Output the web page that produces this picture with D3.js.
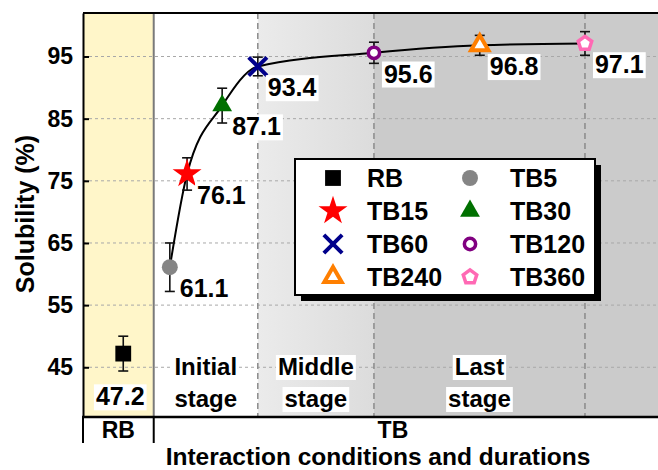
<!DOCTYPE html>
<html>
<head>
<meta charset="utf-8">
<script src="https://cdn.jsdelivr.net/npm/d3@7"></script>
<style>
  body { margin: 0; background: #fff; }
  svg { display: block; font-family: "Liberation Sans", Arial, sans-serif; font-weight: bold; }
</style>
</head>
<body>
<div class="sandbox"></div>
<script>
// data
var categories = ["RB", "TB5", "TB15", "TB30", "TB60", "TB120", "TB240", "TB360"];
var solubility = [47.2, 61.1, 76.1, 87.1, 93.4, 95.6, 96.8, 97.1];
var errors = [2.8, 3.9, 2.6, 2.8, 1.5, 1.7, 1.6, 1.9];
// position of each sample along the (non-linear) x axis, 0..100
var xPos = [7.0, 15.1, 18.1, 24.2, 30.4, 50.6, 69.0, 87.3];
var yTicks = [45, 55, 65, 75, 85, 95];
var stageNames = [["Initial", "stage"], ["Middle", "stage"], ["Last", "stage"]];
var stageEdges = [12.3, 30.4, 50.6, 100];
var groupNames = ["RB", "TB"];
var groupEdges = [0, 12.3, 100];

var w = 658, h = 470;
var m = { left: 83, top: 13, right: 658, bottom: 417 };

var svg = d3.select(".sandbox").append("svg").attr("width", w).attr("height", h);

var x = d3.scaleLinear().domain([0, 100]).range([m.left, m.right]);
var y = d3.scaleLinear().domain([37, 102]).range([m.bottom, m.top]);

var defs = svg.append("defs");
var grad = defs.append("linearGradient").attr("id", "mid").attr("x1", 0).attr("x2", 1);
grad.append("stop").attr("offset", 0).attr("stop-color", "#ebebeb");
grad.append("stop").attr("offset", 1).attr("stop-color", "#dcdcdc");

// backgrounds
svg.append("rect")
  .attr("x", x(groupEdges[0])).attr("y", m.top)
  .attr("width", x(groupEdges[1]) - x(groupEdges[0])).attr("height", m.bottom - m.top)
  .attr("fill", "#fff6c9");
var stageFill = ["#ffffff", "url(#mid)", "#cbcbcb"];
svg.selectAll("rect.stage")
  .data(stageNames)
  .enter().append("rect")
  .attr("class", "stage")
  .attr("x", (d, i) => x(stageEdges[i]))
  .attr("y", m.top)
  .attr("width", (d, i) => x(stageEdges[i + 1]) - x(stageEdges[i]))
  .attr("height", m.bottom - m.top)
  .attr("fill", (d, i) => stageFill[i]);

// grid
svg.selectAll("line.hgrid")
  .data(yTicks)
  .enter().append("line")
  .attr("x1", m.left).attr("x2", m.right)
  .attr("y1", d => y(d)).attr("y2", d => y(d))
  .attr("stroke", "#a8a8a8").attr("stroke-width", 1).attr("stroke-dasharray", "3,3");
svg.selectAll("line.vgrid")
  .data(stageEdges.slice(1, 3).concat([xPos[7]]))
  .enter().append("line")
  .attr("x1", d => x(d)).attr("x2", d => x(d))
  .attr("y1", m.top).attr("y2", m.bottom)
  .attr("stroke", "#8a8a8a").attr("stroke-width", 1.5).attr("stroke-dasharray", "6,4");
svg.append("line")
  .attr("x1", x(groupEdges[1])).attr("x2", x(groupEdges[1]))
  .attr("y1", m.top).attr("y2", m.bottom)
  .attr("stroke", "#7a7a7a").attr("stroke-width", 2);

// stage labels
stageNames.forEach(function(lines, i) {
  var cx = (x(stageEdges[i]) + x(stageEdges[i + 1] > 90 ? xPos[7] : stageEdges[i + 1])) / 2;
  lines.forEach(function(t, j) {
    var g = svg.append("g");
    var tx = g.append("text")
      .attr("x", cx).attr("y", 375 + j * 32)
      .attr("text-anchor", "middle")
      .attr("font-size", 24).text(t);
    var b = tx.node().getBBox();
    g.insert("rect", "text")
      .attr("x", b.x - 2).attr("y", b.y + 2)
      .attr("width", b.width + 4).attr("height", b.height - 2)
      .attr("fill", "#fff");
  });
});

// axes frame
svg.append("line").attr("x1", m.left).attr("x2", m.right).attr("y1", m.top).attr("y2", m.top)
  .attr("stroke", "#000").attr("stroke-width", 2);
svg.append("line").attr("x1", m.left - 1).attr("x2", m.right).attr("y1", m.bottom).attr("y2", m.bottom)
  .attr("stroke", "#000").attr("stroke-width", 2.5);

var yAxis = svg.append("g")
  .attr("transform", "translate(" + m.left + ",0)")
  .call(d3.axisLeft(y).tickValues(yTicks).tickSizeInner(-6).tickSizeOuter(0).tickPadding(10));
yAxis.select(".domain").attr("stroke-width", 2);
yAxis.selectAll(".tick line").attr("stroke-width", 2);
yAxis.selectAll("text").attr("font-size", 23).attr("font-family", "Liberation Sans, Arial").attr("font-weight", "bold");

svg.append("text")
  .attr("transform", "translate(25," + 214 + ") rotate(-90)")
  .attr("text-anchor", "middle").attr("dy", "0.35em")
  .attr("font-size", 25).text("Solubility (%)");

// group row below axis
svg.selectAll("line.gsep")
  .data(groupEdges.slice(0, 2))
  .enter().append("line")
  .attr("x1", d => x(d)).attr("x2", d => x(d))
  .attr("y1", m.bottom).attr("y2", 443)
  .attr("stroke", "#000").attr("stroke-width", 2);
svg.selectAll("text.group")
  .data(groupNames)
  .enter().append("text")
  .attr("x", (d, i) => i === 0 ? (x(groupEdges[0]) + x(groupEdges[1])) / 2 : x(53.9))
  .attr("y", 438).attr("text-anchor", "middle")
  .attr("font-size", 23).text(d => d);
svg.append("text")
  .attr("x", 378).attr("y", 465).attr("text-anchor", "middle")
  .attr("font-size", 24.5).text("Interaction conditions and durations");

// line through TB samples
var pts = categories.map((c, i) => ({ name: c, v: solubility[i], e: errors[i], p: xPos[i], i: i }));
var line = d3.line().x(d => x(d.p)).y(d => y(d.v)).curve(d3.curveMonotoneX);
svg.append("path")
  .datum(pts.slice(1))
  .attr("d", line)
  .attr("fill", "none").attr("stroke", "#000").attr("stroke-width", 2);

// error bars
var eb = svg.selectAll("g.err").data(pts).enter().append("g").attr("stroke", "#111").attr("stroke-width", 1.6);
eb.append("line")
  .attr("x1", d => x(d.p)).attr("x2", d => x(d.p))
  .attr("y1", d => y(d.v + d.e)).attr("y2", d => y(d.v - d.e));
eb.append("line")
  .attr("x1", d => x(d.p) - 5).attr("x2", d => x(d.p) + 5)
  .attr("y1", d => y(d.v + d.e)).attr("y2", d => y(d.v + d.e));
eb.append("line")
  .attr("x1", d => x(d.p) - 5).attr("x2", d => x(d.p) + 5)
  .attr("y1", d => y(d.v - d.e)).attr("y2", d => y(d.v - d.e));

// markers
var pentagon = {
  draw: function(ctx, size) {
    var r = Math.sqrt(size / 2.378);
    for (var k = 0; k < 5; k++) {
      var a = -Math.PI / 2 + k * 2 * Math.PI / 5;
      if (k === 0) ctx.moveTo(r * Math.cos(a), r * Math.sin(a));
      else ctx.lineTo(r * Math.cos(a), r * Math.sin(a));
    }
    ctx.closePath();
  }
};
var styles = [
  { type: d3.symbolSquare, size: 250, fill: "#000", stroke: "none", sw: 0 },
  { type: d3.symbolCircle, size: 200, fill: "#858585", stroke: "none", sw: 0 },
  { type: d3.symbolStar, size: 260, fill: "#ff0000", stroke: "none", sw: 0 },
  { type: d3.symbolTriangle, size: 170, fill: "#007000", stroke: "none", sw: 0 },
  { type: d3.symbolX, size: 220, fill: "none", stroke: "#00008b", sw: 4 },
  { type: d3.symbolCircle, size: 100, fill: "#fff", stroke: "#800080", sw: 3.5 },
  { type: d3.symbolTriangle, size: 130, fill: "#fff", stroke: "#ff7f00", sw: 4 },
  { type: pentagon, size: 120, fill: "#fff", stroke: "#ff69b4", sw: 3.5 }
];
function marker(sel, i) {
  var s = styles[i];
  sel.attr("d", d3.symbol().type(s.type).size(s.size)())
    .attr("fill", s.fill).attr("stroke", s.stroke).attr("stroke-width", s.sw)
    .attr("stroke-linejoin", "miter");
}
svg.selectAll("path.mk").data(pts).enter().append("path")
  .attr("class", "mk")
  .attr("transform", d => "translate(" + x(d.p) + "," + y(d.v) + ")")
  .each(function(d) { marker(d3.select(this), d.i); });

// value labels
pts.forEach(function(d) {
  var g = svg.append("g");
  var rb = d.i === 0;
  var t = g.append("text")
    .attr("x", rb ? x(d.p) - 3 : x(d.p) + 10)
    .attr("y", rb ? y(d.v) + 43 : y(d.v) + 21)
    .attr("dy", "0.35em").attr("text-anchor", rb ? "middle" : "start")
    .attr("font-size", 25).text(d.v.toFixed(1));
  var b = t.node().getBBox();
  g.insert("rect", "text")
    .attr("x", b.x - 2).attr("y", b.y + 2)
    .attr("width", b.width + 4).attr("height", b.height - 2)
    .attr("fill", "#fff");
});

// legend
var lg = svg.append("g").attr("transform", "translate(295,159)");
lg.append("rect").attr("x", 6).attr("y", 6).attr("width", 300).attr("height", 136).attr("fill", "#000");
lg.append("rect").attr("width", 300).attr("height", 136).attr("fill", "#fff")
  .attr("stroke", "#000").attr("stroke-width", 2);
pts.forEach(function(d) {
  var col = d.i % 2, row = Math.floor(d.i / 2);
  var gx = col === 0 ? 38 : 175, gy = 19 + row * 33;
  lg.append("path")
    .attr("transform", "translate(" + gx + "," + gy + ")")
    .call(marker, d.i);
  lg.append("text")
    .attr("x", col === 0 ? 72 : 215).attr("y", gy).attr("dy", "0.35em")
    .attr("font-size", 25).text(d.name);
});
</script>
</body>
</html>
